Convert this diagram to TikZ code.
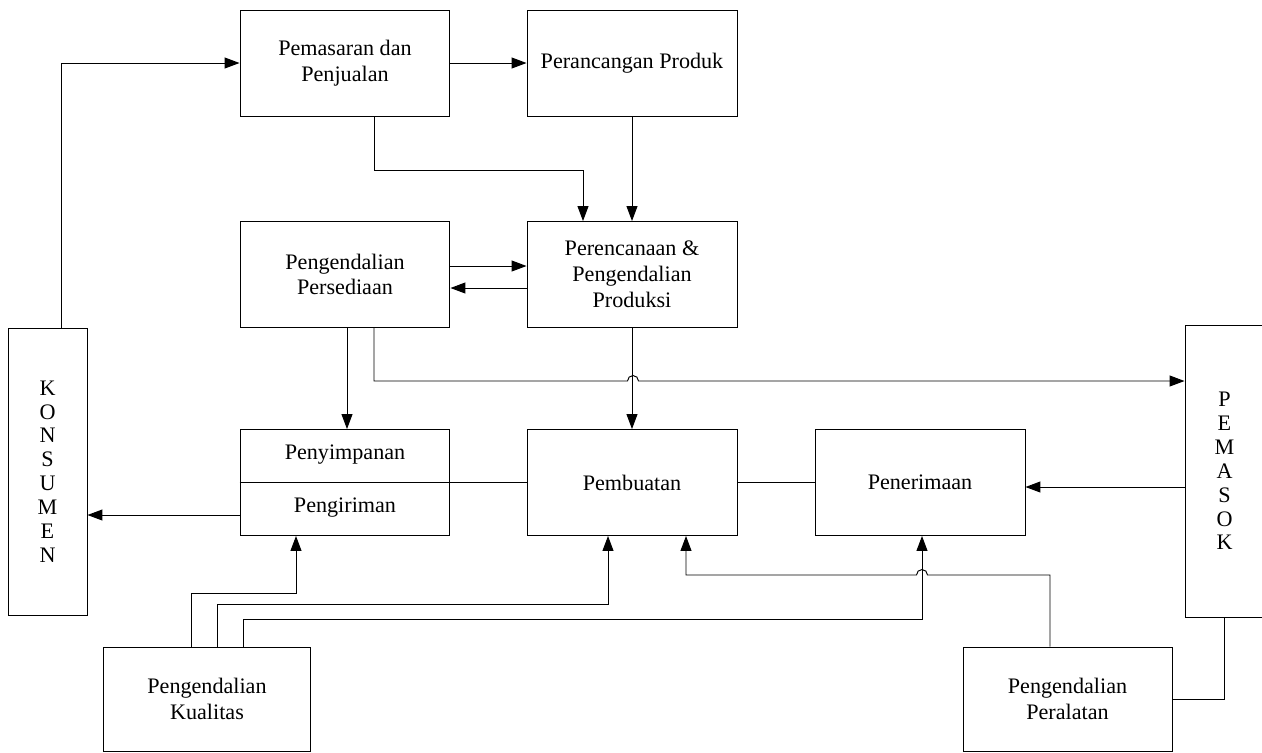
\documentclass[tikz,border=0pt]{standalone}
\usepackage{fontspec}
\setmainfont{Liberation Serif}
\usetikzlibrary{arrows.meta}
\begin{document}
\begin{tikzpicture}[x=0.02cm,y=-0.02cm, line width=0.55pt,
  box/.style={draw, minimum width=4.2cm, minimum height=2.12cm, inner sep=0pt, align=center,
    font=\fontsize{12.6}{14.7}\selectfont},
  vbox/.style={draw, minimum width=1.58cm, inner sep=0pt, align=center,
    font=\fontsize{12.6}{13.6}\selectfont},
  lbl/.style={inner sep=0pt, font=\fontsize{12.6}{14.7}\selectfont},
  arr/.style={-{Triangle[length=0.3cm,width=0.22cm]}}]
\clip (0,0) rectangle (1262,752);
% nodes
\node[box] (pem) at (345,63) {Pemasaran dan\\Penjualan};
\node[box] (per) at (632,63) {Perancangan Produk};
\node[box] (psd) at (345,274.5) {Pengendalian\\Persediaan};
\node[box] (ppc) at (632,274.5) {Perencanaan \&\\Pengendalian\\Produksi};
\node[vbox, minimum height=5.74cm] (kon) at (47.5,471.5) {K\\O\\N\\S\\U\\M\\E\\N};
\node[vbox, minimum height=5.84cm] (pmk) at (1224.5,471) {P\\E\\M\\A\\S\\O\\K};
\node[box] (pyp) at (345,482.5) {};
\node[lbl] (pyp1) at (345,455) {Penyimpanan};
\node[lbl] (pyp2) at (345,508) {Pengiriman};
\node[box] (pbt) at (632,482.5) {Pembuatan};
\node[box] (pnr) at (920,482.5) {Penerimaan};
\node[box, minimum width=4.16cm, minimum height=2.08cm] (kua) at (207,699) {Pengendalian\\Kualitas};
\node[box, minimum width=4.18cm, minimum height=2.08cm] (alt) at (1067.5,699) {Pengendalian\\Peralatan};
% connectors
\draw[arr] (kon.north -| 61,0) |- (pem.west);
\draw[arr] (pem.east) -- (per.west);
\draw[arr] (pem.south -| 374,0) -- (374,170) -| (ppc.north -| 583,0);
\draw[arr] (per.south) -- (ppc.north);
\draw[arr] (psd.east |- 0,266) -- (ppc.west |- 0,266);
\draw[arr] (ppc.west |- 0,288) -- (psd.east |- 0,288);
\draw[arr] (psd.south -| 347,0) -- (pyp.north -| 347,0);
\draw[arr] (psd.south -| 374,0) |- (627.5,381) arc[start angle=180,end angle=0,radius=0.11cm] -- (pmk.west |- 0,381);
\draw[arr] (ppc.south) -- (pbt.north);
\draw (pyp.west) -- (pbt.west);
\draw (pbt.east) -- (pnr.west);
\draw[arr] (pmk.west |- 0,487) -- (pnr.east |- 0,487);
\draw[arr] (pyp.west |- 0,515) -- (kon.east |- 0,515);
\draw[arr] (kua.north -| 191,0) -- (191,593) -| (pyp.south -| 296,0);
\draw[arr] (kua.north -| 217,0) -- (217,604) -| (pbt.south -| 608,0);
\draw[arr] (kua.north -| 243,0) -- (243,619) -| (pnr.south -| 922,0);
\draw[arr] (alt.north -| 1050,0) |- (927.5,575) arc[start angle=0,end angle=180,radius=0.11cm] -- (686,575) -- (pbt.south -| 686,0);
\draw (pmk.south) |- (alt.east);
\end{tikzpicture}
\end{document}
